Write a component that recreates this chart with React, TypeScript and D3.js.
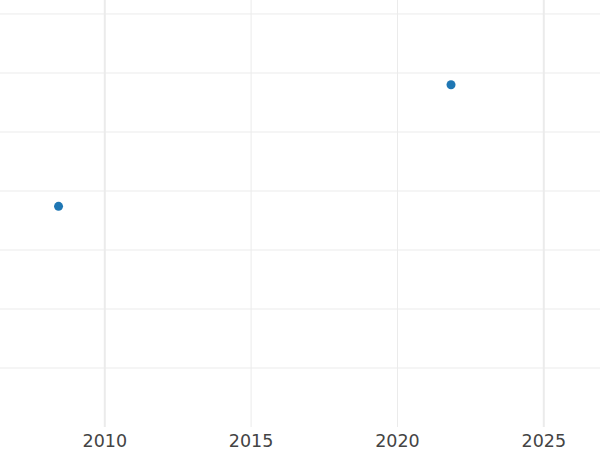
import React from 'react';
import * as d3 from 'd3';

// values
const years = [2008.42, 2021.83];
const values = [3.74, 5.8];
const xTicks = [2010, 2015, 2020, 2025];
const majorTicks = [2010, 2025];
const yTicks = [1, 2, 3, 4, 5, 6, 7];

const width = 600;
const height = 450;
const plotBottom = 427;

const App = () => {
    const x = d3.scaleLinear().domain([2006.42, 2026.92]).range([0, width]);
    const y = d3.scaleLinear().domain([0, 7.237]).range([plotBottom, 0]);

    return (
        <div style={{ position: 'fixed', left: 0, top: 0 }}>
            <svg width={width} height={height} style={{ display: 'block', background: '#fff' }}>
                {yTicks.map(t => (
                    <line key={'h' + t} x1={0} x2={width} y1={y(t)} y2={y(t)}
                          stroke="#ebebeb" strokeWidth={1} />
                ))}
                {xTicks.map(t => (
                    <line key={'v' + t} x1={x(t)} x2={x(t)} y1={0} y2={plotBottom}
                          stroke="#ebebeb"
                          strokeWidth={majorTicks.includes(t) ? 2 : 1} />
                ))}
                {years.map((yr, i) => (
                    <circle key={i} cx={x(yr)} cy={y(values[i])} r={4.5} fill="#1f77b4" />
                ))}
                {xTicks.map(t => (
                    <text key={'t' + t} x={x(t)} y={447} textAnchor="middle"
                          fontFamily="DejaVu Sans" fontSize={17.5} fill="#444">
                        {t}
                    </text>
                ))}
            </svg>
        </div>
    );
};

export default App;
